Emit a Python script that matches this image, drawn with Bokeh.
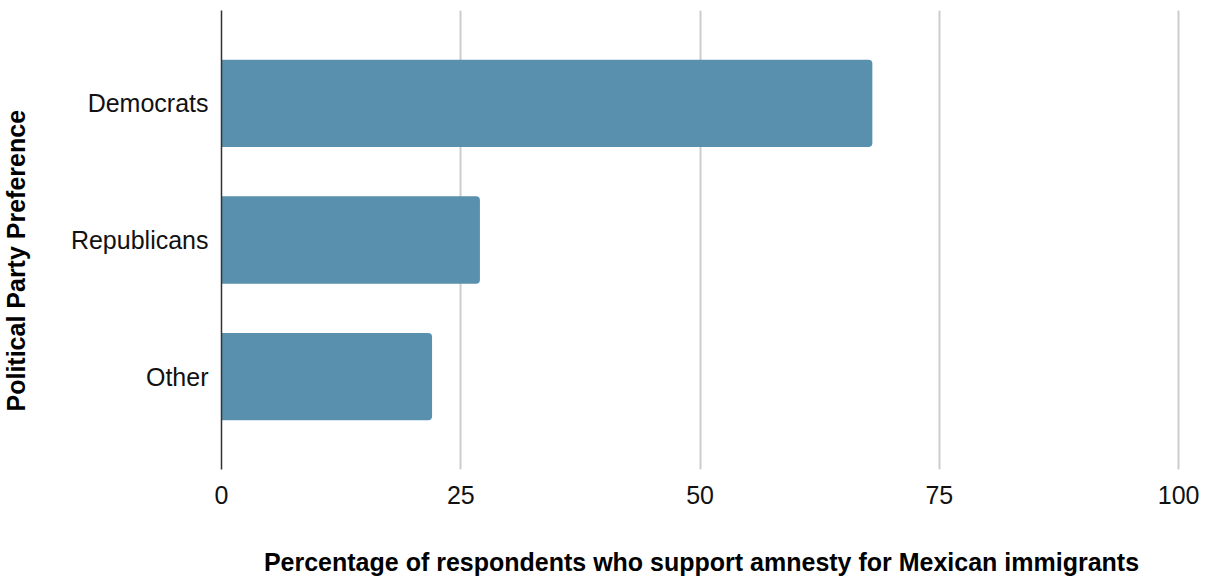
from bokeh.plotting import figure
from bokeh.models import FactorRange, Range1d, FixedTicker, Title
from bokeh.embed import file_html
from bokeh.resources import INLINE

parties = ["Democrats", "Republicans", "Other"]
support = [68, 27, 22]
x_ticks = [0, 25, 50, 75, 100]

factors = list(reversed(parties))

p = figure(
    width=1207, height=578,
    y_range=FactorRange(factors=factors, range_padding=0.12),
    x_range=Range1d(0, 100.3),
    output_backend="svg", toolbar_location=None,
    min_border_left=220, min_border_right=26, min_border_top=10, min_border_bottom=108,
)
p.hbar(y=parties, right=support, left=0, height=0.64, fill_color="#5990ae",
       line_color=None, border_radius=(0, 4, 4, 0))

p.outline_line_color = None
p.ygrid.grid_line_color = None
p.xgrid.grid_line_color = "#cccccc"
p.xgrid.grid_line_width = 2
p.xaxis.ticker = FixedTicker(ticks=x_ticks)
p.xaxis.axis_line_color = None
p.xaxis.major_tick_line_color = None
p.xaxis.minor_tick_line_color = None
p.xaxis.major_tick_out = 0
p.xaxis.major_label_standoff = 16
p.xaxis.axis_label = "Percentage of respondents who support amnesty for Mexican immigrants"
p.xaxis.axis_label_standoff = 41

p.yaxis.axis_line_color = "#333333"
p.yaxis.axis_line_width = 1.5
p.yaxis.major_tick_line_color = None
p.yaxis.minor_tick_line_color = None
p.yaxis.major_tick_out = 0
p.yaxis.major_label_standoff = 13
p.yaxis.axis_label = " "
p.yaxis.axis_label_standoff = 6

for ax in (p.xaxis, p.yaxis):
    ax.major_label_text_font = "Liberation Sans"
    ax.major_label_text_font_size = "25px"
    ax.major_label_text_color = "#111111"
    ax.major_label_text_line_height = 1.0
    ax.axis_label_text_font = "Liberation Sans"
    ax.axis_label_text_font_size = "25px"
    ax.axis_label_text_font_style = "bold"
    ax.axis_label_text_color = "#000000"
    ax.axis_label_text_line_height = 1.0

ytitle = Title(text="Political Party Preference", align="left", offset=58,
               vertical_align="middle",
               text_font="Liberation Sans", text_font_size="25px",
               text_font_style="bold", text_color="#000000")
if "standoff" in Title.properties():
    ytitle.standoff = 0
p.add_layout(ytitle, "left")

open("out.html", "w").write(file_html(p, INLINE))
